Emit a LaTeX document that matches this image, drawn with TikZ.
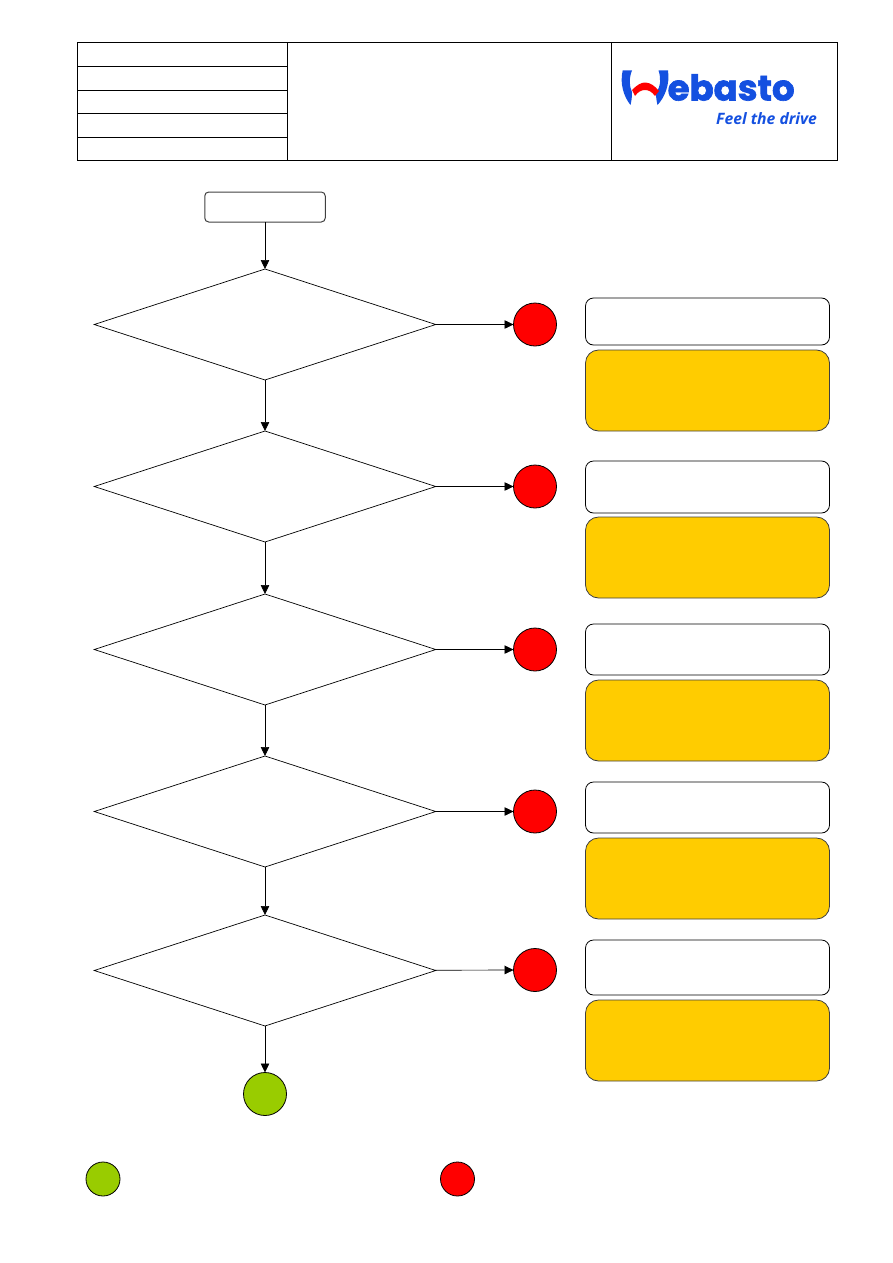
\documentclass[tikz,border=0pt]{standalone}
\usepackage{fontspec}
\usetikzlibrary{shapes.geometric,arrows.meta}
\newfontfamily\logofont[FakeBold=1.8]{Poppins}
\newfontfamily\claimfont{Open Sans}
\definecolor{logo blue}{HTML}{1450E0}
\definecolor{pass green}{HTML}{99CC00}
\definecolor{hint yellow}{HTML}{FFCC00}

\tikzset{
	head cell/.style = {
		rectangle,
		draw = black,
		line width = 1pt,
		inner sep = 0pt,
		outer sep = 0pt,
		anchor = north west
	},
	head row/.style = {
		head cell,
		minimum width = 210.5pt
	},
	start node/.style = {
		rectangle,
		rounded corners = 4pt,
		draw = black!75,
		line width = 1pt,
		outer sep = 0pt,
		minimum width = 120.5pt,
		minimum height = 30pt
	},
	check node/.style = {
		diamond,
		draw = black,
		line width = 0.7pt,
		inner sep = 0pt,
		outer sep = 0pt,
		aspect = 3.08,
		minimum width = 341.5pt,
		minimum height = 111pt
	},
	fail node/.style = {
		circle,
		draw = black,
		line width = 0.8pt,
		fill = red,
		inner sep = 0pt,
		outer sep = 0pt,
		minimum size = 43pt
	},
	pass node/.style = {
		fail node,
		fill = pass green
	},
	key fail/.style = {
		fail node,
		minimum size = 34pt
	},
	key pass/.style = {
		pass node,
		minimum size = 34pt
	},
	note node/.style = {
		rectangle,
		rounded corners = 8pt,
		draw = black,
		line width = 0.8pt,
		outer sep = 0pt,
		minimum width = 244pt,
		anchor = north west
	},
	hint node/.style = {
		note node,
		rounded corners = 13pt,
		draw = black!75,
		fill = hint yellow,
		minimum height = 81pt
	},
	flow/.style = {
		draw = black,
		line width = 0.7pt,
		-{Triangle[length=9pt,width=8.5pt]}
	}
}

\begin{document}
\begin{tikzpicture}[x=1pt,y=-1pt]
	\useasboundingbox (0,0) rectangle (893,1263);

	% header table
	\node at (77,43)        [head row, minimum height = 23.5pt] (r1) {};
	\node at (r1.south west) [head row, minimum height = 23.5pt] (r2) {};
	\node at (r2.south west) [head row, minimum height = 23.5pt] (r3) {};
	\node at (r3.south west) [head row, minimum height = 24pt] (r4) {};
	\node at (r4.south west) [head row, minimum height = 22.5pt] (r5) {};
	\node at (r1.north east) [head cell, minimum width = 323.5pt, minimum height = 117pt] (title) {};
	\node at (title.north east) [head cell, minimum width = 226pt, minimum height = 117pt] (brand) {};

	% logo
	\fill [logo blue] (622.7,70.5) -- (632,70.5) .. controls (629,78) and (629,86) .. (632,92) .. controls (632,97) and (631.5,101) .. (630.5,105) .. controls (624,97) and (619.5,84) .. (622.7,70.5) -- cycle;
	\fill [logo blue] (658.5,70.5) -- (668,70.5) .. controls (670,84) and (665,97) .. (657.5,105) .. controls (656.5,101) and (656,97) .. (656,93) .. controls (661,86) and (661,78) .. (658.5,70.5) -- cycle;
	\fill [red] (632,90) .. controls (637,85) and (641,82.5) .. (645,82.5) .. controls (650,82.5) and (655,86) .. (659,91) -- (655,96) .. controls (652,92) and (649,90) .. (645,90) .. controls (641,90) and (638,92) .. (635,96) -- cycle;
	\node at (667.5,100.5) [anchor = base west, inner sep = 0pt, text = logo blue, font = \logofont\bfseries\fontsize{35.5}{36}\selectfont] (logoname) {ebasto};
	\node at (716,119) [anchor = west, inner sep = 0pt, text = logo blue, font = \claimfont\bfseries\itshape\fontsize{15.7}{16}\selectfont] (claim) {Feel the drive};

	% flow
	\node at (265,207)   [start node] (start) {};
	\node at (265,324.5) [check node] (c1) {};
	\node at (265,486.5) [check node] (c2) {};
	\node at (265,649.5) [check node] (c3) {};
	\node at (265,811.5) [check node] (c4) {};
	\node at (265,970.5) [check node] (c5) {};

	\node at (535,324.5) [fail node] (f1) {};
	\node at (535,486.5) [fail node] (f2) {};
	\node at (535,649.5) [fail node] (f3) {};
	\node at (535,811.5) [fail node] (f4) {};
	\node at (535,970)   [fail node] (f5) {};
	\node at (265,1094)  [pass node] (ok) {};

	\node at (585.5,298) [note node, minimum height = 47pt] (n1) {};
	\node at (585.5,461) [note node, minimum height = 52pt] (n2) {};
	\node at (585.5,624) [note node, minimum height = 51pt] (n3) {};
	\node at (585.5,782) [note node, minimum height = 51pt] (n4) {};
	\node at (585.5,940) [note node, minimum height = 55pt] (n5) {};

	\node at (585.5,350)  [hint node] (h1) {};
	\node at (585.5,517)  [hint node] (h2) {};
	\node at (585.5,680)  [hint node] (h3) {};
	\node at (585.5,838)  [hint node] (h4) {};
	\node at (585.5,1000) [hint node] (h5) {};

	\node at (103,1179)   [key pass] (kp) {};
	\node at (457.5,1179) [key fail] (kf) {};

	\draw [flow] (start) -- (c1);
	\draw [flow] (c1) -- (c2);
	\draw [flow] (c2) -- (c3);
	\draw [flow] (c3) -- (c4);
	\draw [flow] (c4) -- (c5);
	\draw [flow] (c5) -- (ok);
	\draw [flow] (c1) -- (f1);
	\draw [flow] (c2) -- (f2);
	\draw [flow] (c3) -- (f3);
	\draw [flow] (c4) -- (f4);
	\draw [flow] (c5) -- (f5);
\end{tikzpicture}
\end{document}
